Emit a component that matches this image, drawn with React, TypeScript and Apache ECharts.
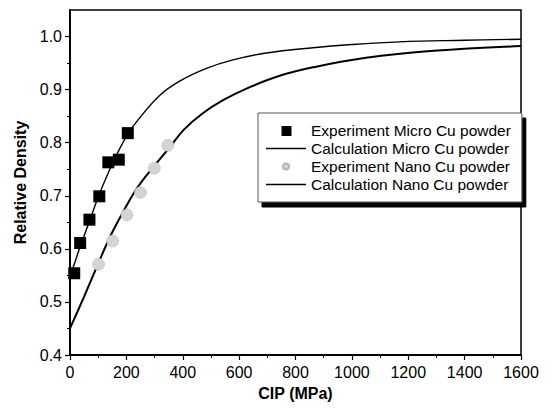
import React, { useEffect, useRef } from "react";
import * as echarts from "echarts";

const microP = [15, 36, 69, 104, 136, 173, 205];
const microD = [0.554, 0.611, 0.655, 0.699, 0.763, 0.768, 0.818];
const nanoP = [101, 151, 202, 250, 299, 347];
const nanoD = [0.571, 0.615, 0.664, 0.706, 0.752, 0.795];

const microCalcP = [10, 36, 69, 104, 150, 200, 240, 318, 389, 484, 578, 696, 862, 1000, 1169, 1400, 1600];
const microCalcD = [0.563, 0.604, 0.652, 0.703, 0.760, 0.812, 0.842, 0.889, 0.916, 0.940, 0.956, 0.969, 0.979, 0.985, 0.990, 0.993, 0.995];
const nanoCalcP = [0, 50, 100, 145, 195, 240, 300, 350, 405, 470, 543, 626, 744, 862, 1050, 1290, 1600];
const nanoCalcD = [0.450, 0.510, 0.572, 0.626, 0.676, 0.716, 0.757, 0.789, 0.825, 0.855, 0.880, 0.902, 0.926, 0.942, 0.960, 0.973, 0.982];

const yTicks = [0.4, 0.5, 0.6, 0.7, 0.8, 0.9, 1.0];
const names = [
  "Experiment Micro Cu powder",
  "Calculation Micro Cu powder",
  "Experiment Nano Cu powder",
  "Calculation Nano Cu powder",
];

const zip = (a: number[], b: number[]) => a.map((v, i) => [v, b[i]]);
const FONT = "'Liberation Sans', Arial, Helvetica, sans-serif";
const LINE_ICON = "path://M0,0M40,14M0,6.3L40,6.3L40,7.7L0,7.7Z";

export default function App() {
  const ref = useRef<HTMLDivElement>(null);
  useEffect(() => {
    if (!ref.current) return;
    const chart = echarts.init(ref.current, undefined, { renderer: "svg" });
    chart.setOption({
      animation: false,
      backgroundColor: "#ffffff",
      textStyle: { fontFamily: FONT, color: "#000" },
      grid: {
        left: 70,
        right: 32,
        top: 10,
        bottom: 56,
        show: true,
        borderColor: "#000",
        borderWidth: 1.5,
      },
      legend: {
        orient: "vertical",
        left: 258,
        top: 113,
        padding: [9.5, 11, 9.5, 7],
        itemWidth: 40,
        itemHeight: 14,
        itemGap: 2,
        backgroundColor: "#fff",
        borderColor: "#555",
        borderWidth: 1,
        shadowColor: "#000",
        shadowOffsetX: 4,
        shadowOffsetY: 5,
        shadowBlur: 0,
        textStyle: { fontSize: 15.5, lineHeight: 16, color: "#000", fontFamily: FONT },
        data: [
          { name: names[0], icon: "path://M0,0M40,14M15.5,2.5L25.5,2.5L25.5,12.5L15.5,12.5Z" },
          { name: names[1], icon: LINE_ICON },
          { name: names[2], icon: "path://M0,0M40,14M23,7A3,3,0,1,1,17,7A3,3,0,1,1,23,7Z" },
          { name: names[3], icon: LINE_ICON },
        ],
      },
      xAxis: {
        type: "value",
        min: 0,
        max: 1600,
        interval: 200,
        name: "CIP (MPa)",
        nameLocation: "middle",
        nameGap: 30,
        nameTextStyle: { fontSize: 16, fontWeight: "bold", color: "#000", fontFamily: FONT },
        axisLine: { show: true, onZero: false, lineStyle: { color: "#000", width: 2 } },
        axisTick: { show: true, inside: false, length: 5, lineStyle: { color: "#000", width: 1.2 } },
        minorTick: { show: true, splitNumber: 2, length: 3, lineStyle: { color: "#000", width: 1 } },
        axisLabel: {
          fontSize: 16,
          color: "#000",
          margin: 9,
          fontFamily: FONT,
          formatter: (v: number) => String(v),
        },
        splitLine: { show: false },
      },
      yAxis: {
        type: "value",
        min: 0.4,
        max: 1.05,
        interval: 0.1,
        name: "Relative Density",
        nameLocation: "middle",
        nameGap: 40,
        nameTextStyle: { fontSize: 16, fontWeight: "bold", color: "#000", fontFamily: FONT },
        axisLine: { show: true, onZero: false, lineStyle: { color: "#000", width: 2 } },
        axisTick: { show: true, inside: false, length: 5, customValues: yTicks, lineStyle: { color: "#000", width: 1.2 } },
        minorTick: { show: true, splitNumber: 2, length: 3, lineStyle: { color: "#000", width: 1 } },
        axisLabel: {
          fontSize: 16,
          color: "#000",
          margin: 8,
          fontFamily: FONT,
          customValues: yTicks,
          formatter: (v: number) => v.toFixed(1),
        },
        splitLine: { show: false },
      },
      series: [
        {
          name: names[1],
          type: "line",
          data: zip(microCalcP, microCalcD),
          symbol: "none",
          smooth: 0.4,
          lineStyle: { color: "#000", width: 1.4 },
          itemStyle: { color: "#000" },
          z: 2,
        },
        {
          name: names[3],
          type: "line",
          data: zip(nanoCalcP, nanoCalcD),
          symbol: "none",
          smooth: 0.4,
          lineStyle: { color: "#000", width: 2 },
          itemStyle: { color: "#000" },
          z: 2,
        },
        {
          name: names[0],
          type: "scatter",
          data: zip(microP, microD),
          symbol: "rect",
          symbolSize: 12,
          itemStyle: { color: "#000", opacity: 1 },
          z: 4,
        },
        {
          name: names[2],
          type: "scatter",
          data: zip(nanoP, nanoD),
          symbol: "circle",
          symbolSize: 12,
          itemStyle: { color: "#d4d4d4", borderColor: "#b5b5b5", borderWidth: 1, borderType: "dotted", opacity: 1 },
          z: 3,
        },
      ],
    });
    return () => chart.dispose();
  }, []);
  return (
    <div
      ref={ref}
      style={{ position: "fixed", left: 0, top: 0, width: 553, height: 411, background: "#fff" }}
    />
  );
}
